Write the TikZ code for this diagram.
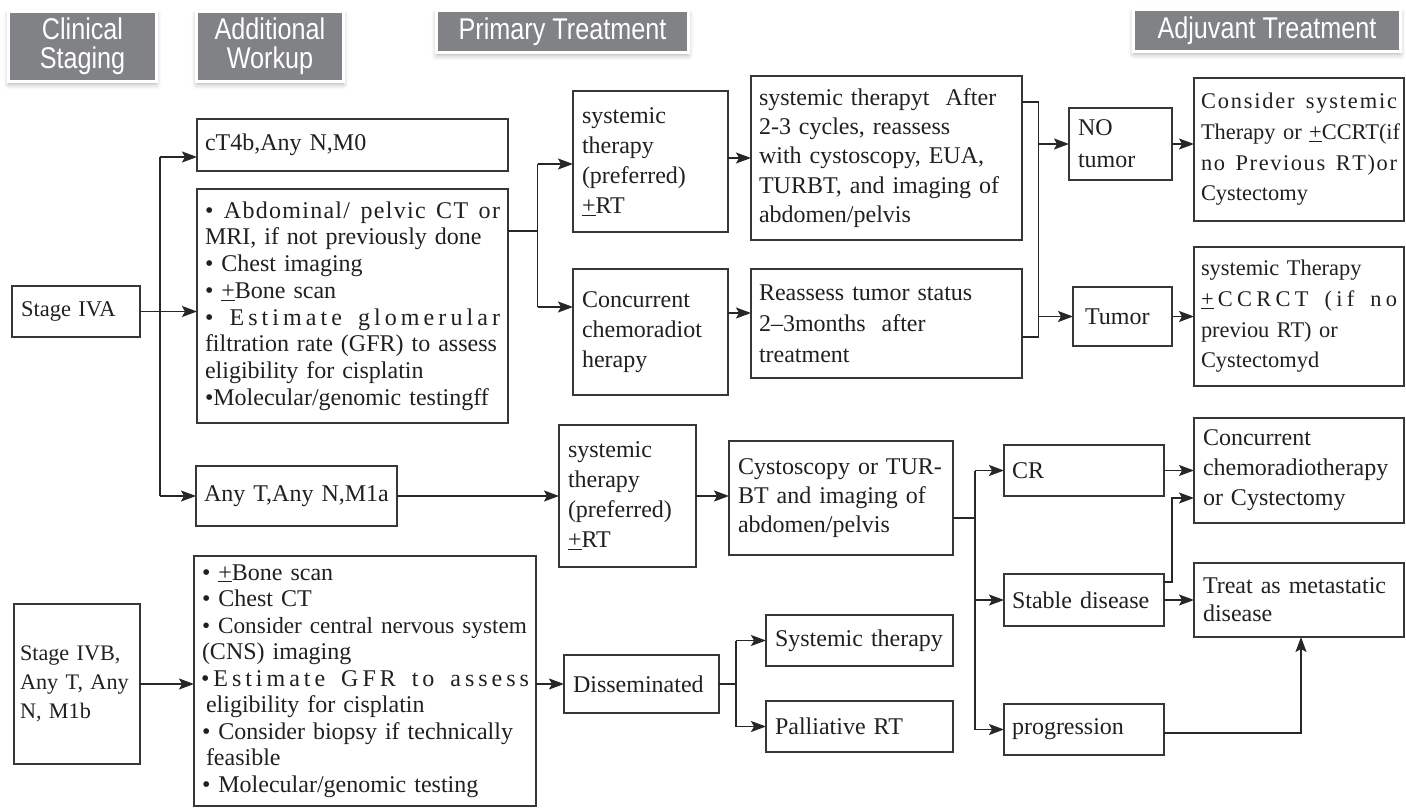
\documentclass[tikz,border=0pt]{standalone}
\usepackage{fontspec}
\setmainfont{Liberation Serif}
\newfontfamily\hdrfont[FakeStretch=0.84]{Liberation Sans}
\usetikzlibrary{arrows.meta,shadows.blur}

\definecolor{hdrgray}{RGB}{128,130,133}
\definecolor{boxc}{RGB}{55,55,55}
\definecolor{linec}{RGB}{40,38,39}
\definecolor{txt}{RGB}{35,31,32}

% spread a line over the full width, letters and words alike
\ExplSyntaxOn
\seq_new:N \l__sprd_words_seq
\NewDocumentCommand \spreadline { m }
  {
    \mode_leave_vertical:
    \seq_set_split:Nnn \l__sprd_words_seq { ~ } { #1 }
    \hbox_to_wd:nn { \hsize }
      {
        \seq_map_indexed_inline:Nn \l__sprd_words_seq
          {
            \int_compare:nNnT { ##1 } > { 1 } { \c_space_tl \hfil }
            \tl_map_inline:nn { ##2 } { ####1 \hfil }
          }
        \unskip
      }
  }
\ExplSyntaxOff
\newcommand\fullline[1]{\leavevmode\makebox[\hsize][s]{#1}}

\tikzset{
  bx/.style={draw=boxc, line width=1.5pt, fill=white, inner ysep=0pt,
    inner xsep=8pt, outer sep=0pt, align=left, anchor=north west, text=txt,
    font=\fontsize{24}{27}\selectfont},
  lh/.style={font=\fontsize{24}{#1}\selectfont},
  sm/.style={font=\fontsize{22.4}{#1}\selectfont},
  hdr/.style={fill=hdrgray, draw=white, line width=3pt, text=white,
    font=\hdrfont\fontsize{30}{29}\selectfont, align=center, inner sep=0pt,
    blur shadow={shadow xshift=0pt, shadow yshift=-3pt, shadow blur radius=5pt,
      shadow opacity=30}},
  ln/.style={draw=linec, line width=1.4pt},
  arr/.style={ln, -{Stealth[length=15pt,width=11pt,inset=3pt]}}
}

\begin{document}
\begin{tikzpicture}[x=1pt,y=-1pt]
\useasboundingbox (0,0) rectangle (1406,810);

% column headers
\node[hdr, minimum width=148pt, minimum height=70pt] (hClin) at (82.5,46.5) {Clinical\\Staging};
\node[hdr, minimum width=147pt, minimum height=70pt] (hAdd) at (270,46.5) {Additional\\Workup};
\node[hdr, minimum width=252pt, minimum height=42pt] (hPrim) at (562.5,31.5) {Primary Treatment};
\node[hdr, minimum width=267pt, minimum height=42pt] (hAdj) at (1267,30.5) {Adjuvant Treatment};

% stage IVA branch
\node[bx, inner xsep=9pt, minimum width=128pt, minimum height=51pt, text width=110pt,
  font=\fontsize{22.5}{27}\selectfont] (stA) at (12,286) {Stage IVA};
\node[bx, minimum width=311pt, minimum height=52pt, text width=295pt] (ct4b) at (197,119) {cT4b,Any N,M0};
\node[bx, lh=26.7, minimum width=311pt, minimum height=234pt, text width=295pt] (wkA) at (197,189)
  {\spreadline{• Abdominal/ pelvic CT or}\\
   MRI, if not previously done\\
   • Chest imaging\\
   • \underline{+}Bone scan\\
   \spreadline{• Estimate glomerular}\\
   \fullline{filtration rate (GFR) to assess}\\
   eligibility for cisplatin\\
   •Molecular/genomic testingff};
\node[bx, minimum width=201pt, minimum height=60pt, text width=185pt] (anyT) at (196,466) {Any T,Any N,M1a};

\node[bx, lh=30, inner xsep=9pt, minimum width=155pt, minimum height=141pt, text width=137pt] (sys1) at (573,91)
  {systemic\\therapy\\(preferred)\\\underline{+}RT};
\node[bx, lh=29.2, minimum width=271pt, minimum height=164pt, text width=255pt] (aft) at (751,76)
  {systemic therapyt\ \ After\\2-3 cycles, reassess\\with cystoscopy, EUA,\\TURBT, and imaging of\\abdomen/pelvis};
\node[bx, lh=30, inner xsep=9pt, minimum width=155pt, minimum height=126pt, text width=137pt] (ccrt) at (573,269)
  {Concurrent\\chemoradiot\\herapy};
\node[bx, lh=31, minimum width=271pt, minimum height=109pt, text width=255pt] (reas) at (751,269)
  {Reassess tumor status\\2–3months\ \ after\\treatment};
\node[bx, lh=31.7, inner xsep=9pt, minimum width=103pt, minimum height=72pt, text width=85pt] (notum) at (1069,108)
  {NO\\tumor};
\node[bx, inner xsep=12pt, minimum width=99pt, minimum height=59pt, text width=75pt] (tum) at (1073,287) {Tumor};
\node[bx, sm=30.7, inner xsep=7pt, minimum width=210pt, minimum height=143pt, text width=196pt] (cons) at (1194,78)
  {\spreadline{Consider systemic}\\
   \fullline{Therapy or \underline{+}CCRT(if}\\
   \spreadline{no Previous RT)or}\\
   Cystectomy};
\node[bx, sm=30.6, inner xsep=7pt, minimum width=210pt, minimum height=139pt, text width=196pt] (sysT) at (1194,247)
  {systemic Therapy\\
   \spreadline{{\underline{+}}CCRCT (if no}\\
   previou RT) or\\
   Cystectomyd};

% M1a treatment path
\node[bx, lh=30, inner xsep=9pt, minimum width=137pt, minimum height=142pt, text width=119pt] (sys2) at (559,425)
  {systemic\\therapy\\(preferred)\\\underline{+}RT};
\node[bx, lh=29, inner xsep=9pt, minimum width=224pt, minimum height=114pt, text width=206pt] (cysto) at (729,441)
  {Cystoscopy or TUR-\\BT and imaging of\\abdomen/pelvis};
\node[bx, minimum width=160pt, minimum height=51pt, text width=144pt] (cr) at (1004,445) {CR};
\node[bx, minimum width=160pt, minimum height=52pt, text width=144pt] (stab) at (1004,574) {Stable disease};
\node[bx, minimum width=160pt, minimum height=51pt, text width=144pt] (prog) at (1004,704) {progression};
\node[bx, lh=30, inner xsep=9pt, minimum width=210pt, minimum height=105pt, text width=192pt] (conc) at (1194,418)
  {Concurrent\\chemoradiotherapy\\or Cystectomy};
\node[bx, lh=28, inner xsep=9pt, minimum width=210pt, minimum height=74pt, text width=192pt] (treat) at (1194,563)
  {Treat as metastatic\\disease};

% stage IVB branch
\node[bx, inner xsep=6pt, minimum width=126pt, minimum height=160pt, text width=114pt,
  font=\fontsize{22.2}{29}\selectfont] (stB) at (14,604) {Stage IVB,\\Any T, Any\\N, M1b};
\node[bx, lh=26.5, inner xsep=7pt, minimum width=342pt, minimum height=250pt, text width=328pt] (wkB) at (194,556)
  {\hspace*{1pt}• \underline{+}Bone scan\\
   \hspace*{1pt}• Chest CT\\
   \fullline{\hspace*{1pt}{\fontsize{23.2}{26.5}\selectfont • Consider central nervous system}}\\
   \hspace*{1pt}(CNS) imaging\\
   \spreadline{•Estimate GFR to assess}\\
   \hspace*{5pt}eligibility for cisplatin\\
   \fullline{\hspace*{1pt}• Consider biopsy if technically}\\
   \hspace*{5pt}feasible\\
   \hspace*{1pt}• Molecular/genomic testing};
\node[bx, inner xsep=9pt, minimum width=155pt, minimum height=58pt, text width=137pt] (diss) at (564,655) {Disseminated};
\node[bx, inner xsep=9pt, minimum width=187pt, minimum height=51pt, text width=169pt] (systh) at (766,615) {Systemic therapy};
\node[bx, inner xsep=9pt, minimum width=187pt, minimum height=51pt, text width=169pt] (pall) at (766,701) {Palliative RT};

% junction points
\coordinate (tTop) at (160,157);
\coordinate (fA) at (537.5,231);
\coordinate (fA1) at (537.5,164);
\coordinate (fA2) at (537.5,307);
\coordinate (rA) at (740,313);
\coordinate (bA) at (1038.5,102);
\coordinate (bB) at (1038.5,337);
\coordinate (jC) at (975,518);
\coordinate (dj) at (736,684);
\coordinate (sj) at (1172,582);
\coordinate (cj) at (1172,498);
\coordinate (pu) at (1301,733);

% connectors: stage IVA
\draw[arr] (stA.east) -- (wkA.west |- stA.east);
\draw[ln] (tTop) -- (tTop |- anyT.west);
\draw[arr] (tTop) -- (tTop -| ct4b.west);
\draw[arr] (tTop |- anyT.west) -- (anyT.west);
\draw[ln] (wkA.east |- fA) -- (fA);
\draw[ln] (fA1) -- (fA2);
\draw[arr] (fA1) -- (fA1 -| sys1.west);
\draw[arr] (fA2) -- (fA2 -| ccrt.west);
\draw[arr] (sys1.east |- aft.west) -- (aft.west);
\draw[arr] (ccrt.east |- rA) -- (reas.west |- rA);
\draw[ln] (aft.east |- bA) -- (bA) -- (bB) -- (reas.east |- bB);
\draw[arr] (bA |- notum.west) -- (notum.west);
\draw[arr] (bA |- tum.west) -- (tum.west);
\draw[arr] (notum.east) -- (cons.west |- notum.east);
\draw[arr] (tum.east) -- (sysT.west |- tum.east);

% connectors: M1a path
\draw[arr] (anyT.east) -- (sys2.west |- anyT.east);
\draw[arr] (sys2.east) -- (cysto.west |- sys2.east);
\draw[ln] (cysto.east |- jC) -- (jC);
\draw[ln] (jC |- cr.west) -- (jC |- prog.west);
\draw[arr] (jC |- cr.west) -- (cr.west);
\draw[arr] (jC |- stab.west) -- (stab.west);
\draw[arr] (jC |- prog.west) -- (prog.west);
\draw[arr] (cr.east) -- (conc.west |- cr.east);
\draw[arr] (stab.east |- sj) -- (sj) -- (cj) -- (cj -| conc.west);
\draw[arr] (stab.east) -- (treat.west |- stab.east);
\draw[arr] (prog.east |- pu) -- (pu) -- (pu |- treat.south);

% connectors: stage IVB
\draw[arr] (stB.east) -- (wkB.west |- stB.east);
\draw[arr] (wkB.east |- diss.west) -- (diss.west);
\draw[ln] (diss.east) -- (dj);
\draw[ln] (dj |- systh.west) -- (dj |- pall.west);
\draw[arr] (dj |- systh.west) -- (systh.west);
\draw[arr] (dj |- pall.west) -- (pall.west);
\end{tikzpicture}
\end{document}
